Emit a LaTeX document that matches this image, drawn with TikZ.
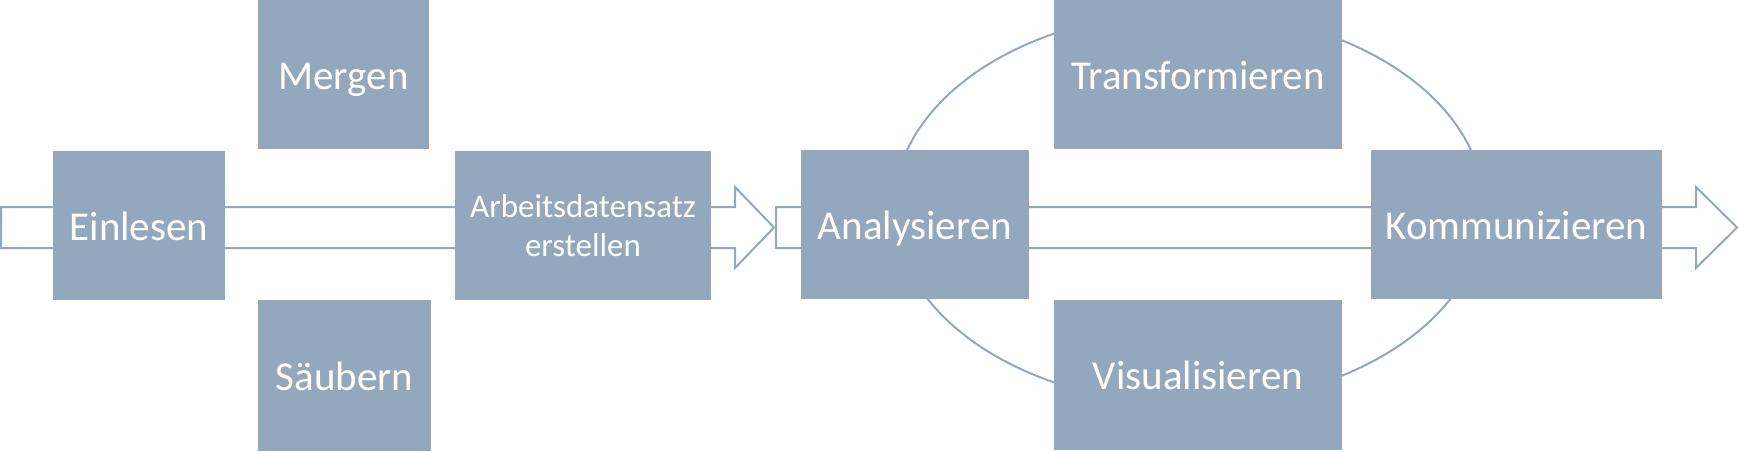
\documentclass[tikz,border=0pt]{standalone}
\usepackage{fontspec}
\setmainfont{Carlito}
\usepackage{tikz}
\definecolor{boxgray}{RGB}{147,168,188}
\tikzset{
  stepbox/.style={rectangle, fill=boxgray, text=white, inner sep=0pt, align=center,
    font=\fontsize{20.5}{24}\selectfont, text height=14.8pt, text depth=0pt},
  flow/.style={draw=boxgray, line width=1pt, fill=white, line join=miter}
}

\begin{document}
\begin{tikzpicture}[x=0.5pt, y=-0.5pt]
\useasboundingbox (0,0) rectangle (1739,451);
\draw [flow] (1,207) -- (735,207) -- (735,187) -- (774,227.5) -- (735,268) -- (735,248) -- (1,248) -- cycle;
\draw [flow] (776,207) -- (1696,207) -- (1696,187) -- (1737,227.5) -- (1696,268) -- (1696,248) -- (776,248) -- cycle;
\draw [draw=boxgray, line width=1pt] (1189,208) ellipse [x radius=147.5pt, y radius=98pt];
\node [stepbox, minimum width=86pt, minimum height=74.5pt] (EINLESEN) at (139,225.5) {Einlesen};
\node [stepbox, minimum width=85.5pt, minimum height=74.5pt] (MERGEN) at (343.5,74.5) {Mergen};
\node [stepbox, minimum width=86.5pt, minimum height=75.5pt] (SAEUBERN) at (344.5,375.5) {Säubern};
\node [stepbox, minimum width=128pt, minimum height=74.5pt, font=\fontsize{16.5}{19.5}\selectfont, text height=, text depth=] (ARBEIT) at (583,225.5) {Arbeitsdatensatz\\erstellen};
\node [stepbox, minimum width=114pt, minimum height=74.5pt] (ANALYSE) at (915,224.5) {Analysieren};
\node [stepbox, minimum width=144pt, minimum height=74.5pt] (TRANS) at (1198,74.5) {Transformieren};
\node [stepbox, minimum width=145.5pt, minimum height=74.5pt] (KOMM) at (1516.5,224.5) {Kommunizieren};
\node [stepbox, minimum width=144pt, minimum height=75pt] (VIS) at (1198,375) {Visualisieren};
\end{tikzpicture}
\end{document}
